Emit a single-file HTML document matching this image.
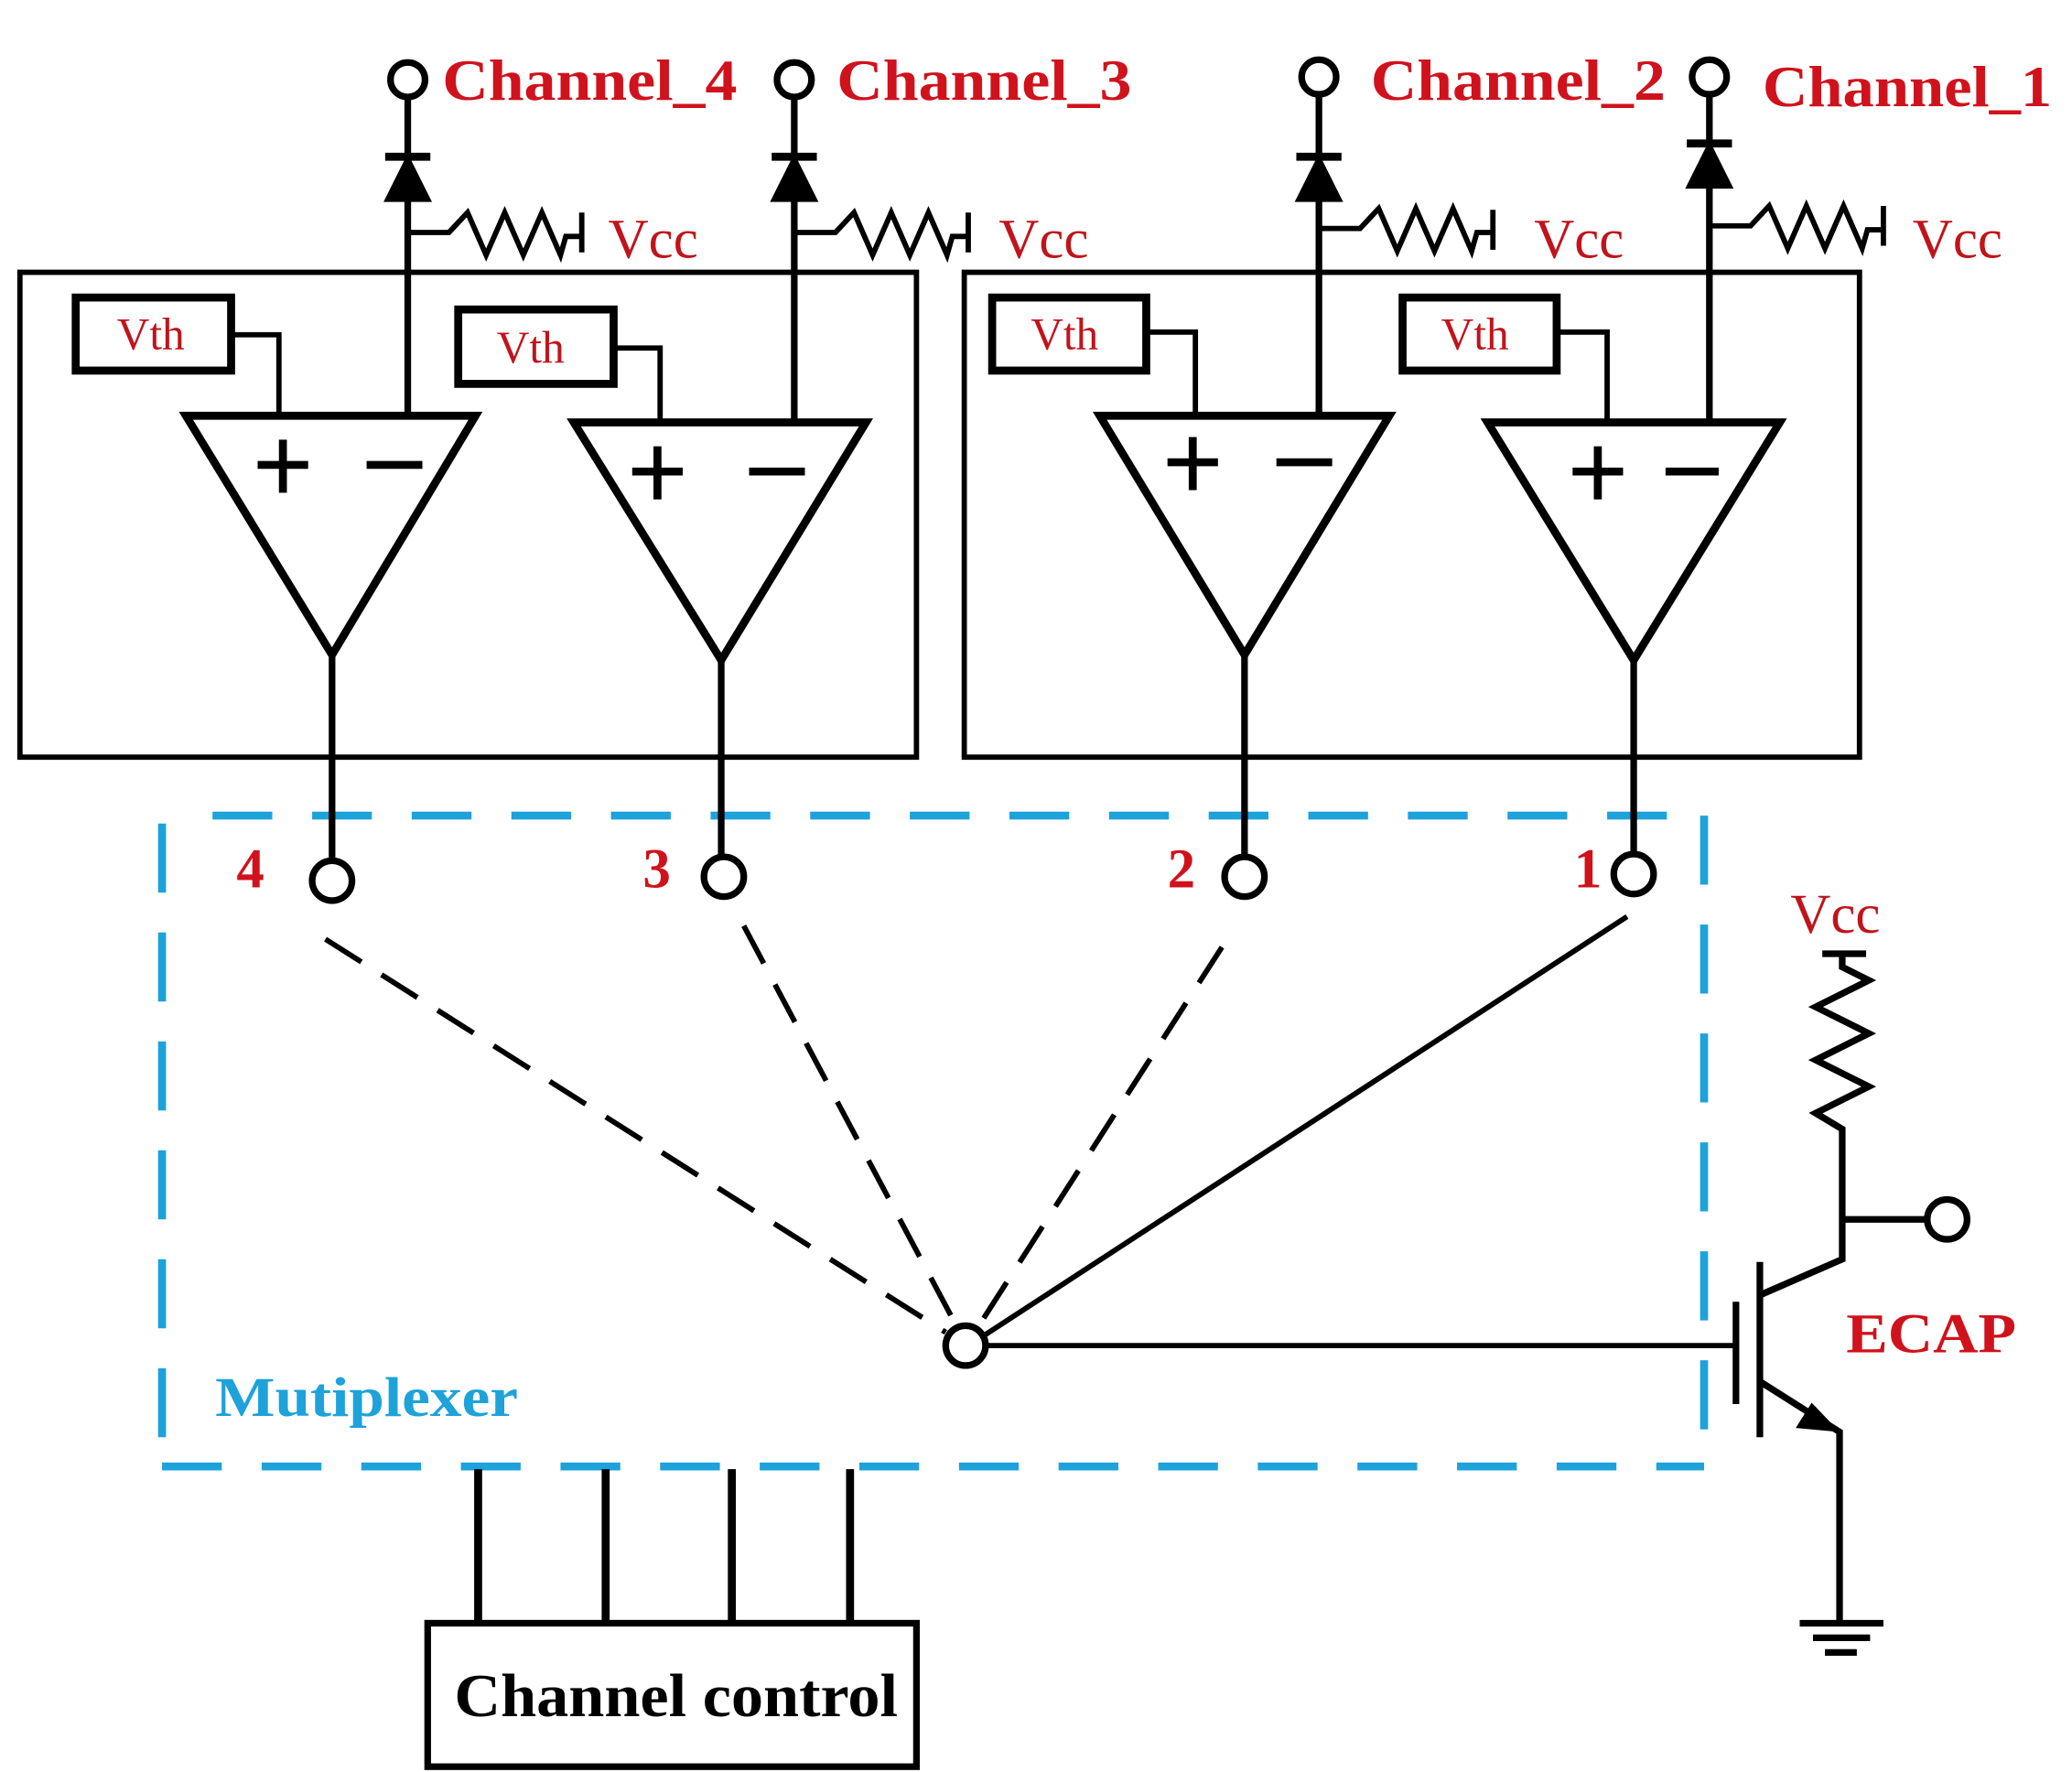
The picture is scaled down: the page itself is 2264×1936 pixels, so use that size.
<!DOCTYPE html>
<html><head><meta charset="utf-8"><style>html,body{margin:0;padding:0;background:#fff;}svg{display:block;}</style></head>
<body>
<svg width="2264" height="1936" viewBox="0 0 1560 1334" preserveAspectRatio="none" xmlns="http://www.w3.org/2000/svg">
<rect width="1560" height="1334" fill="#fff"/>
<g fill="none" stroke="#000" stroke-width="4">
<rect x="15" y="205" width="675" height="365"/>
<rect x="726" y="205" width="674" height="365"/>
</g>
<!-- comparators -->
<g fill="none" stroke="#000" stroke-width="6" stroke-linejoin="miter">
<path d="M140 313 H358 L250 493 Z"/>
<path d="M432 318 H652 L543 497 Z"/>
<path d="M828 313 H1046 L937 493 Z"/>
<path d="M1120 318 H1340 L1230 497 Z"/>
</g>
<g stroke="#000" stroke-width="6">
<path d="M194 350 H232 M213 331 V371 M276 350 H318"/>
<path d="M476 355 H514 M495 336 V376 M564 355 H606"/>
<path d="M879 348 H917 M898 329 V369 M961 348 H1003"/>
<path d="M1184 355 H1222 M1203 336 V376 M1254 355 H1294"/>
</g>
<!-- Vth boxes -->
<g fill="none" stroke="#000" stroke-width="6">
<rect x="57" y="224" width="117" height="55"/>
<rect x="345" y="233" width="117" height="56"/>
<rect x="747" y="224" width="116" height="55"/>
<rect x="1056" y="224" width="116" height="55"/>
</g>
<g fill="none" stroke="#000" stroke-width="4">
<path d="M174 252 H210 V313"/>
<path d="M462 262 H497 V318"/>
<path d="M863 250 H900 V313"/>
<path d="M1172 250 H1210 V318"/>
</g>
<g font-family="Liberation Serif, serif" font-size="34" fill="#c0141c">
<text x="88" y="263">Vth</text>
<text x="374" y="273">Vth</text>
<text x="776" y="263">Vth</text>
<text x="1085" y="263">Vth</text>
</g>
<g stroke="#000" fill="none" stroke-width="5">
<path d="M307 313 V72"/>
<path d="M598 318 V72"/>
<path d="M993 313 V70"/>
<path d="M1287 318 V72"/>
</g>
<g fill="#fff" stroke="#000" stroke-width="5">
<circle cx="307" cy="60" r="13"/>
<circle cx="598" cy="60" r="13"/>
<circle cx="993" cy="58" r="13"/>
<circle cx="1287" cy="58" r="13"/>
</g>
<g fill="#000" stroke="#000" stroke-width="4">
<path d="M292 150 H322 L307 120 Z"/><path d="M290 118 H324" stroke-width="6"/>
<path d="M583 150 H613 L598 120 Z"/><path d="M581 118 H615" stroke-width="6"/>
<path d="M978 150 H1008 L993 120 Z"/><path d="M976 118 H1010" stroke-width="6"/>
<path d="M1272 140 H1302 L1287 110 Z"/><path d="M1270 108 H1304" stroke-width="6"/>
</g>
<g fill="none" stroke="#000" stroke-width="4" stroke-linejoin="miter">
<path d="M307 175 H338 L352 160 L366 192 L380 160 L394 192 L408 160 L422 192 L426 178 H438 M438 160 V190"/>
<path d="M598 175 H629 L643 160 L657 192 L671 160 L685 192 L699 160 L713 192 L717 178 H729 M729 160 V190"/>
<path d="M993 172 H1024 L1038 157 L1052 189 L1066 157 L1080 189 L1094 157 L1108 189 L1112 175 H1124 M1124 158 V188"/>
<path d="M1287 170 H1318 L1332 155 L1346 187 L1360 155 L1374 187 L1388 155 L1402 187 L1406 173 H1418 M1418 155 V185"/>
</g>
<g font-family="Liberation Serif, serif" font-size="42" fill="#c0141c">
<text x="458" y="194">Vcc</text>
<text x="752" y="194">Vcc</text>
<text x="1155" y="194">Vcc</text>
<text x="1440" y="194">Vcc</text>
<text x="1348" y="702">Vcc</text>
</g>
<g font-family="Liberation Serif, serif" font-size="44" font-weight="bold" fill="#d0121c">
<text x="333" y="75" textLength="222" lengthAdjust="spacingAndGlyphs">Channel_4</text>
<text x="630" y="75" textLength="222" lengthAdjust="spacingAndGlyphs">Channel_3</text>
<text x="1032" y="75" textLength="222" lengthAdjust="spacingAndGlyphs">Channel_2</text>
<text x="1327" y="80" textLength="218" lengthAdjust="spacingAndGlyphs">Channel_1</text>
<text x="178" y="668" font-size="42">4</text>
<text x="484" y="668" font-size="42">3</text>
<text x="879" y="668" font-size="42">2</text>
<text x="1185" y="668" font-size="42">1</text>
<text x="1390" y="1018" font-size="42" textLength="128" lengthAdjust="spacingAndGlyphs">ECAP</text>
</g>
<g fill="none" stroke="#1ea2da" stroke-width="6" stroke-linecap="butt">
<path d="M160 614 H1283" stroke-dasharray="45 30"/>
<path d="M122 1104 H1283" stroke-dasharray="45 30"/>
<path d="M122 620 V1104" stroke-dasharray="52 30"/>
<path d="M1283 614 V1104" stroke-dasharray="52 30"/>
</g>
<text x="162" y="1066" font-family="Liberation Serif, serif" font-size="42" font-weight="bold" fill="#1ea2da" textLength="228" lengthAdjust="spacingAndGlyphs">Mutiplexer</text>
<g stroke="#000" stroke-width="5" fill="none">
<path d="M250 493 V646"/><path d="M543 497 V644"/><path d="M937 493 V644"/><path d="M1230 497 V642"/>
</g>
<g fill="#fff" stroke="#000" stroke-width="5">
<circle cx="250" cy="663" r="15"/>
<circle cx="545" cy="660" r="15"/>
<circle cx="937" cy="660" r="15"/>
<circle cx="1230" cy="658" r="15"/>
</g>
<g stroke="#000" stroke-width="4" fill="none">
<path d="M245 707 L712 1003" stroke-dasharray="32 18"/>
<path d="M560 697 L720 998" stroke-dasharray="32 18"/>
<path d="M920 713 L737 998" stroke-dasharray="32 18"/>
<path d="M1225 690 L740 1006"/>
<path d="M742 1013 H1305"/>
</g>
<circle cx="727" cy="1013" r="15" fill="#fff" stroke="#000" stroke-width="5"/>
<g stroke="#000" stroke-width="5" fill="none">
<path d="M1307 980 V1057"/>
<path d="M1325 950 V1082"/>
<path d="M1325 975 L1387 948 V850 L1367 838 L1407 818 L1367 798 L1407 778 L1367 758 L1407 738 L1387 728 V718 M1372 718 H1405"/>
<path d="M1387 918 H1450"/>
<path d="M1325 1040 L1385 1078 V1222"/>
<path d="M1355 1222 H1418 M1365 1233 H1408 M1374 1244 H1398"/>
</g>
<path d="M1385 1078 L1352 1075 L1364 1056 Z" fill="#000"/>
<circle cx="1466" cy="918" r="15" fill="#fff" stroke="#000" stroke-width="5"/>
<g stroke="#000" stroke-width="6">
<path d="M360 1106 V1222 M456 1106 V1222 M551 1106 V1222 M640 1106 V1222"/>
</g>
<rect x="322" y="1222" width="368" height="108" fill="none" stroke="#000" stroke-width="5"/>
<text x="509" y="1292" text-anchor="middle" font-family="Liberation Serif, serif" font-size="46" font-weight="bold" fill="#000" textLength="334" lengthAdjust="spacingAndGlyphs">Channel control</text>
</svg>
</body></html>
